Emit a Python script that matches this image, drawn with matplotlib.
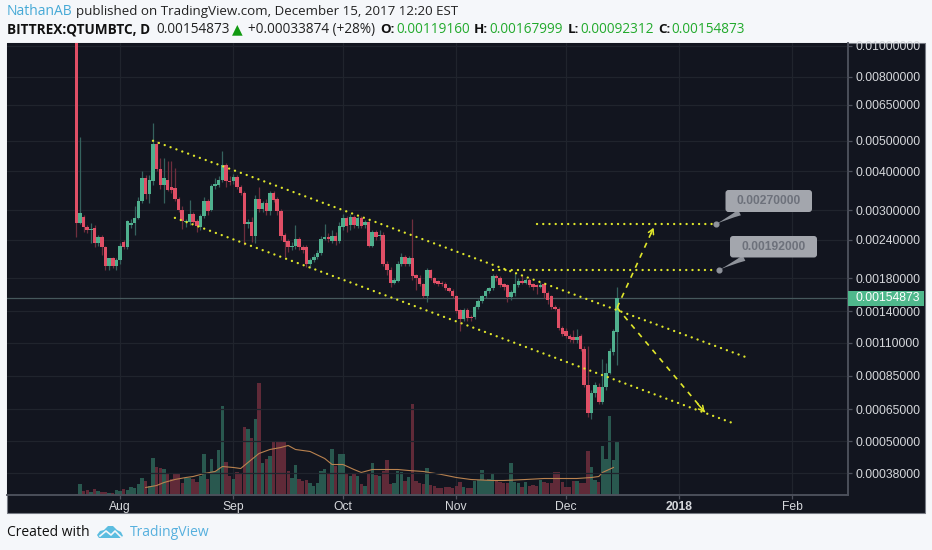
import numpy as np
import pandas as pd
import matplotlib
matplotlib.use("Agg")
import matplotlib.pyplot as plt
import matplotlib.dates as mdates
from matplotlib.patches import FancyBboxPatch, Polygon, Rectangle
from matplotlib.lines import Line2D

W, H = 932, 550

# daily prices, in units of 0.00001 BTC
opens = [1300,273,285,265,259,263,235,246,228,198,209,197,
         206,237,228,269,273,283,321,381,339,372,489,407,362,375,357,354,326,301,275,275,292,277,265,288,321,301,359,362,375,419,372,
         372,384,357,341,271,275,248,326,303,317,298,341,326,298,250,239,228,230,242,228,227,200,206,212,218,242,246,239,248,239,
         265,283,269,285,267,283,269,275,230,254,248,250,201,192,174,177,200,212,201,210,184,181,172,157,191,180,176,174,173,167,164,
         157,141,132,142,134,134,145,151,157,163,167,183,180,172,171,156,161,171,177,174,178,172,171,169,172,161,157,145,143,123,
         120,116,115,112,116,105,79,63,74,78,69,78,87,102,119.16]
closes = [273,294,265,259,261,235,246,228,198,209,198,206,
          230,228,277,273,283,321,381,339,375,489,407,362,381,349,349,326,301,277,277,292,275,267,288,321,298,359,365,375,419,372,370,
          384,357,341,271,275,248,326,303,317,298,341,324,298,248,237,228,230,242,228,223,200,207,212,218,242,246,242,248,239,267,
          283,267,285,269,283,267,275,230,254,246,250,200,192,174,178,200,212,201,209,183,180,172,157,191,180,174,172,172,167,164,157,
          140,132,142,133,133,145,152,157,164,167,183,180,171,169,156,162,172,177,174,178,171,169,169,171,161,153,145,143,123,118,
          116,113,112,115,105,79,63,74,79,69,78,87,103,120,154.873]
highs = [1350,514,290,268,272,268,250,250,230,210,212,210,
         235,240,279,280,310,330,400,390,390,569,500,440,440,430,430,410,330,310,280,324,296,280,292,330,325,365,381,385,465,425,385,
         392,390,360,345,280,285,335,357,320,325,345,345,330,302,252,242,236,269,245,232,232,210,216,222,248,270,252,258,255,275,
         292,288,292,290,288,288,278,278,258,258,259,254,205,196,180,205,218,214,213,281,186,184,174,195,193,182,178,176,175,169,166,
         159,143,144,144,136,147,154,159,166,169,186,186,183,174,173,165,187,180,184,181,180,174,173,175,175,163,159,147,145,125,
         123,118,121,122,118,107,107,76,81,80,97,94,106,122,167.999]
lows = [246,270,255,252,235,228,230,215,192,192,195,192,
        200,224,224,262,250,280,315,325,317,360,400,350,317,345,340,320,295,260,265,268,270,254,258,282,290,297,350,355,370,355,362,
        365,350,335,232,262,236,235,296,296,290,290,318,290,240,212,220,222,225,222,218,196,195,203,208,215,240,236,234,232,235,
        258,255,258,262,262,262,262,228,228,240,240,197,185,168,172,175,198,198,198,178,165,170,155,150,178,172,170,170,165,162,155,
        138,120,130,130,130,132,143,149,155,161,165,176,168,165,150,153,158,168,172,172,169,165,160,167,155,148,143,141,121,116,
        114,111,110,110,103,78,61,59.8,72,68,68,76,86,100,92.312]
volumes = [1,11,4,5,3,6,4,3,3,2,2,5,
           4,6,5,8,7,11,17,14,9,37,28,27,26,21,16,22,22,12,17,17,16,13,19,41,16,36,24,45,89,33,19,
           16,23,22,68,66,57,76,112,32,36,39,53,53,53,53,24,17,30,16,14,15,12,9,12,24,26,21,46,29,41,
           41,21,19,21,19,11,9,21,32,20,19,24,35,11,12,24,23,14,18,91,14,12,11,27,10,9,7,7,8,8,7,
           9,13,8,7,7,14,15,25,15,16,21,15,13,12,12,32,13,12,8,13,9,10,9,15,13,12,12,23,23,13,
           8,8,14,14,12,12,44,28,15,13,49,36,79,35,53]

ma_dates = ["2017-08-08","2017-08-11","2017-08-13","2017-08-16","2017-08-19","2017-08-21","2017-08-24","2017-08-27",
            "2017-08-29","2017-09-01","2017-09-03","2017-09-05","2017-09-08","2017-09-11","2017-09-14","2017-09-16",
            "2017-09-18","2017-09-22","2017-09-26","2017-09-28","2017-10-01","2017-10-04","2017-10-06","2017-10-09",
            "2017-10-16","2017-10-19","2017-10-23","2017-10-28","2017-11-01","2017-11-05","2017-11-11","2017-11-14",
            "2017-11-20","2017-11-25","2017-12-01","2017-12-04","2017-12-08","2017-12-10","2017-12-11","2017-12-14"]
ma_values = [7,9,12,15,17,18,21,23,28,27,26,32,41,45,47,49,45,43,36,30,30,25,22,25,25,24,23,20,17,15,14,14,15,16,16,16,17,18,22,27]

price_ticks = [0.01, 0.008, 0.0065, 0.005, 0.004, 0.003, 0.0024, 0.0018, 0.0014, 0.0011, 0.00085, 0.00065, 0.0005, 0.00038]
month_ticks = ["2017-08-01","2017-09-01","2017-10-01","2017-11-01","2017-12-01","2018-01-01","2018-02-01"]
month_labels = ["Aug","Sep","Oct","Nov","Dec","2018","Feb"]

last_price = 0.00154873

# drawings on the chart
channel_upper = (["2017-08-10","2018-01-19"], [0.0050, 0.000986])
channel_lower = (["2017-08-16","2018-01-16"], [0.00283, 0.000578])
level_low = (["2017-11-11","2018-01-11"], [0.00192, 0.00192])
level_high = (["2017-11-23","2018-01-11"], [0.0027, 0.0027])
arrow_up = (["2017-12-15","2017-12-25"], [0.00144, 0.00263])
arrow_down = (["2017-12-15","2018-01-08"], [0.00144, 0.000635])

BG = "#12151f"
GRID = "#20242d"
AXIS = "#4d515c"
TXT = "#d6d8dc"
UP = "#4fb08e"
DOWN = "#e04f66"
UP_WICK = "#35625e"
DOWN_WICK = "#6f2e3e"
UP_VOL = "#2f6a5c"
DOWN_VOL = "#74303f"
YELLOW = "#dfe62b"

dates = pd.date_range("2017-07-20", periods=len(closes), freq="D")
x = mdates.date2num(dates)
o = np.array(opens) * 1e-5
c = np.array(closes) * 1e-5
hi = np.array(highs) * 1e-5
lo = np.array(lows) * 1e-5
vol = np.array(volumes)
rising = c >= o


def num(days):
    return mdates.date2num(pd.to_datetime(days))


def fx(px):
    return px / W


def fy(py):
    return 1 - py / H


fig = plt.figure(figsize=(W / 100, H / 100), dpi=100, facecolor="#f5f7fa")

# dark chart panel behind the axes
fig.add_artist(Rectangle((fx(7), fy(513)), fx(925) - fx(7), fy(43) - fy(513), transform=fig.transFigure,
                         facecolor=BG, edgecolor="#777b84", linewidth=0.8, zorder=-5))

ax_vol = fig.add_axes([fx(7), fy(494.5), fx(848) - fx(7), fy(43) - fy(494.5)])
ax_vol.set_facecolor(BG)
ax = ax_vol.twinx()
ax.set_zorder(ax_vol.get_zorder() + 1)
ax.patch.set_visible(False)

ax.set_yscale("function", functions=(lambda v: np.log10(v + 8e-5), lambda v: 10 ** v - 8e-5))
ax.set_ylim(0.000314, 0.01022)
ax_vol.set_ylim(0, 451.5)
ax.set_xlim(num("2017-07-01") + 0.05, num("2018-02-16") + 0.2)
ax_vol.set_xlim(ax.get_xlim())

# grid
tick_x = [num(d) for d in month_ticks]
for t in tick_x:
    ax_vol.axvline(t, color=GRID, lw=0.9, zorder=0)
for p in price_ticks:
    ax.axhline(p, color=GRID, lw=0.9, zorder=0)

# volume
ax_vol.bar(x, vol, width=0.92, color=[UP_VOL if r else DOWN_VOL for r in rising], alpha=0.8, linewidth=0, zorder=2)
ax_vol.plot(num(ma_dates), ma_values, color="#b9824f", lw=0.8, zorder=3)

# last price line
ax.axhline(last_price, color="#46585c", lw=0.9, zorder=1)

# candles
ax.vlines(x, lo, hi, colors=[UP_WICK if r else DOWN_WICK for r in rising], lw=0.9, zorder=3)
ax.bar(x, np.abs(c - o), bottom=np.minimum(o, c), width=0.95, color=[UP if r else DOWN for r in rising],
       linewidth=0, zorder=4)

# trend lines and levels
for days, prices in [channel_upper, channel_lower, level_low, level_high]:
    ax.plot(num(days), prices, color=YELLOW, lw=1.7, linestyle=(0, (0.02, 2.62)), dash_capstyle="round", zorder=5)
for days, prices in [arrow_up, arrow_down]:
    nd = num(days)
    ax.plot(nd, prices, color=YELLOW, lw=1.2, linestyle=(0, (3.2, 3.4)), dash_capstyle="butt", zorder=5)
    # only the head, from a short piece at the end of the line
    near = (nd[1] - 0.08 * (nd[1] - nd[0]), prices[1] * (prices[0] / prices[1]) ** 0.08)
    ax.annotate("", xy=(nd[1], prices[1]), xytext=near,
                arrowprops=dict(arrowstyle="->,head_length=0.35,head_width=0.2", color=YELLOW, lw=1.1,
                                shrinkA=0, shrinkB=0), zorder=5)

# axes look
ax_vol.set_yticks([])
ax_vol.set_xticks(tick_x)
ax_vol.set_xticklabels(month_labels, fontsize=8.7, color=TXT, family="Liberation Sans")
ax_vol.get_xticklabels()[5].set_fontweight("bold")
ax_vol.tick_params(axis="x", color=AXIS, length=3, width=0.9, pad=2)
ax.yaxis.tick_right()
ax.set_yticks(price_ticks)
ax.set_yticklabels([f"{p:.8f}" for p in price_ticks], fontsize=8.7, color=TXT, family="Liberation Sans")
ax.minorticks_off()
ax.tick_params(axis="y", color=AXIS, length=3, width=0.9, pad=2.5)
for a in (ax, ax_vol):
    for side in ("top", "left"):
        a.spines[side].set_visible(False)
    for side in ("right", "bottom"):
        a.spines[side].set_color(AXIS)
        a.spines[side].set_linewidth(1.1)

# price tag on the axis
tag_y = ax.transData.transform((x[-1], last_price))[1]
tag_py = H - tag_y
fig.add_artist(Rectangle((fx(848), fy(tag_py + 7.5)), fx(924) - fx(848), 15 / H, transform=fig.transFigure,
                         facecolor="#4fb88c", edgecolor="none", zorder=6))
fig.text(fx(855), fy(tag_py), f"{last_price:.8f}", fontsize=8.7, color="white", va="center",
         family="Liberation Sans", zorder=7)


# callouts on the two levels
def callout(box, tip_day, tip_price, label):
    left, top, right, bottom = box
    cx, cy = (left + right) / 2, (top + bottom) / 2
    ax.annotate("", xy=(num(tip_day), tip_price), xytext=(left + 14, H - bottom - 0.5), textcoords="figure pixels",
                arrowprops=dict(arrowstyle="wedge,tail_width=0.45,shrink_factor=0.35", color="#8f939b", lw=0,
                                shrinkA=0, shrinkB=0), zorder=6)
    ax.plot(num(tip_day), tip_price, "o", ms=3.4, color="#8f939b", zorder=7, clip_on=False)
    fig.add_artist(FancyBboxPatch((left + 2, H - bottom + 2), right - left - 4, bottom - top - 4, transform=None,
                                  boxstyle="round,pad=2,rounding_size=3", facecolor="#a3a6ad", edgecolor="none",
                                  zorder=8))
    fig.text(fx(cx), fy(cy), label, fontsize=8.7, color="#6d717b", ha="center", va="center",
             family="Liberation Sans", fontweight="bold", zorder=9)


callout((725.5, 190, 812, 212), "2018-01-11", 0.0027, "0.00270000")
callout((730, 236, 817, 257.5), "2018-01-12", 0.00192, "0.00192000")

# header
HEAD = "Open Sans"
fig.text(fx(7), fy(11.5), "NathanAB", fontsize=10, color="#45a9d6", va="center", family=HEAD)
fig.text(fx(76.5), fy(11.5), "published on TradingView.com, December 15, 2017 12:20 EST", fontsize=9.6,
         color="#222222", va="center", family=HEAD)
fig.text(fx(7), fy(29.5), "BITTREX:QTUMBTC, D", fontsize=9.8, color="#111111", va="center", family=HEAD, fontweight="bold")
fig.text(fx(156), fy(29.5), "0.00154873", fontsize=9.8, color="#222222", va="center", family=HEAD)
fig.text(fx(232), fy(29.5), "\u25b2", fontsize=10, color="#119a11", va="center", family="DejaVu Sans")
fig.text(fx(248), fy(29.5), "+0.00033874 (+28%)", fontsize=9.8, color="#222222", va="center", family=HEAD)
for lx, label, vx, value in [(380, "O:", 396, "0.00119160"), (474, "H:", 489, "0.00167999"),
                             (568, "L:", 580, "0.00092312"), (658, "C:", 671, "0.00154873")]:
    fig.text(fx(lx), fy(29.5), label, fontsize=9.6, color="#111111", va="center", family=HEAD, fontweight="bold")
    fig.text(fx(vx), fy(29.5), value, fontsize=9.8, color="#22aa2c", va="center", family=HEAD)

# footer
fig.text(fx(7), fy(532), "Created with", fontsize=10, color="#111111", va="center", family=HEAD)
fig.text(fx(130), fy(532), "TradingView", fontsize=10, color="#56b0de", va="center", family=HEAD)
cloud = [(97, 535), (100, 531), (104, 530), (108, 526), (113, 526), (117, 530), (121, 532), (123, 536), (120, 538), (99, 538)]
fig.add_artist(Polygon([(fx(a), fy(b)) for a, b in cloud], closed=True, transform=fig.transFigure,
                       facecolor="#5cbde0", edgecolor="none", zorder=3))
zig = [(100, 536), (106, 531), (111, 535), (115, 531), (121, 537)]
fig.add_artist(Line2D([fx(a) for a, b in zig], [fy(b) for a, b in zig], transform=fig.transFigure,
                      color="#f5f7fa", lw=1.2, zorder=4))

fig.savefig("out.png", dpi=100, facecolor=fig.get_facecolor())
